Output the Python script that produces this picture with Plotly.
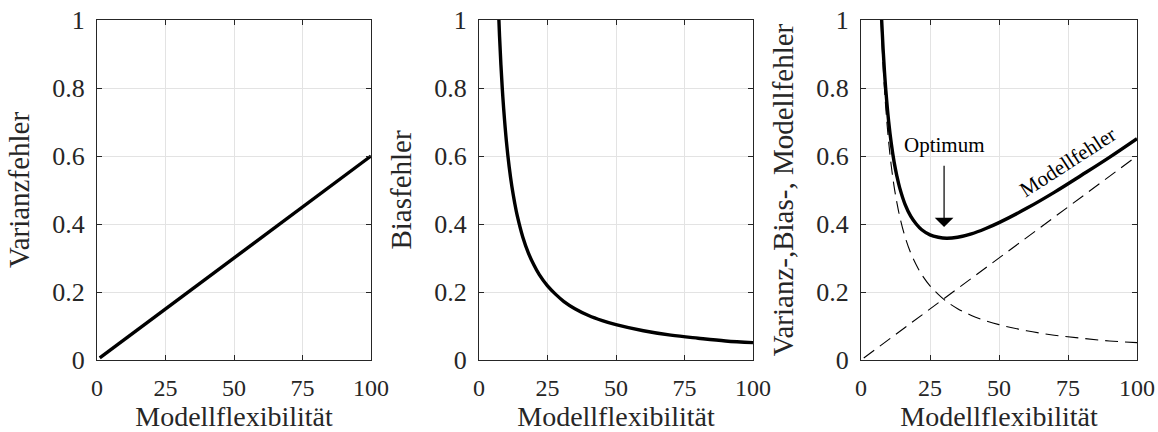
import plotly.graph_objects as go

# ---- data ----
var_x = [1, 100]
var_y = [0.006, 0.6]

bias_x = [7, 7.5, 8, 8.5, 9, 10, 11, 12, 13, 14, 16, 18, 20, 22, 25, 28, 31, 35, 40,
          45, 50, 60, 70, 80, 90, 100]
bias_y = [1.053, 0.952, 0.868, 0.798, 0.739, 0.643, 0.569, 0.510, 0.463, 0.423, 0.361,
          0.315, 0.280, 0.251, 0.218, 0.193, 0.172, 0.151, 0.131, 0.116, 0.104, 0.086,
          0.073, 0.064, 0.056, 0.051]

total_x = [7, 7.5, 8, 8.5, 9, 10, 11, 12, 13, 14, 16, 18, 20, 22, 25, 28, 31, 35, 40,
           45, 50, 60, 70, 80, 90, 100]
total_y = [1.095, 0.997, 0.916, 0.849, 0.793, 0.703, 0.635, 0.582, 0.541, 0.507, 0.457,
           0.423, 0.400, 0.383, 0.368, 0.361, 0.358, 0.361, 0.371, 0.386, 0.404, 0.446,
           0.493, 0.544, 0.596, 0.651]

x_ticks = [0, 25, 50, 75, 100]
y_ticks = [0, 0.2, 0.4, 0.6, 0.8, 1]
y_tick_text = ["0", "0.2", "0.4", "0.6", "0.8", "1"]

x_title = "Modellflexibilität"
y_titles = ["Varianzfehler", "Biasfehler", "Varianz-,Bias-, Modellfehler"]

opt_x, opt_text_y, opt_tail_y, opt_head_y = 30.1, 0.632, 0.576, 0.391
label_x, label_y = 75.0, 0.582

FONT = "Liberation Serif"
W, H = 1158, 432
panels_px = [(97, 371), (479, 753), (861, 1137)]
AX = "#262626"

fig = go.Figure()

fig.add_trace(go.Scatter(x=var_x, y=var_y, mode="lines",
                         line=dict(color="black", width=3.4), xaxis="x", yaxis="y"))
fig.add_trace(go.Scatter(x=bias_x, y=bias_y, mode="lines", line_shape="spline",
                         line=dict(color="black", width=3.4), xaxis="x2", yaxis="y2"))
fig.add_trace(go.Scatter(x=var_x, y=var_y, mode="lines",
                         line=dict(color="black", width=1.1, dash="13px,7px"),
                         xaxis="x3", yaxis="y3"))
fig.add_trace(go.Scatter(x=bias_x, y=bias_y, mode="lines", line_shape="spline",
                         line=dict(color="black", width=1.1, dash="13px,7px"),
                         xaxis="x3", yaxis="y3"))
fig.add_trace(go.Scatter(x=total_x, y=total_y, mode="lines", line_shape="spline",
                         line=dict(color="black", width=3.4), xaxis="x3", yaxis="y3"))

layout = dict(
    width=W, height=H,
    margin=dict(l=0, r=0, t=20, b=72),
    paper_bgcolor="white", plot_bgcolor="white",
    showlegend=False,
    font=dict(family=FONT, color=AX),
)

for i, (x0, x1) in enumerate(panels_px):
    sfx = "" if i == 0 else str(i + 1)
    common = dict(showline=True, linecolor=AX, linewidth=1, mirror="ticks",
                  ticks="inside", ticklen=5, tickcolor=AX,
                  showgrid=True, gridcolor="#e3e3e3", gridwidth=1,
                  zeroline=False, automargin=False)
    layout["xaxis" + sfx] = dict(common, domain=[x0 / W, x1 / W], range=[0, 100],
                                 tickvals=x_ticks, anchor="y" + sfx,
                                 ticklabelstandoff=6,
                                 tickfont=dict(family=FONT, size=24, color=AX),
                                 title=dict(text=x_title, font=dict(family=FONT, size=28, color=AX),
                                            standoff=10))
    layout["yaxis" + sfx] = dict(common, domain=[0, 1], range=[0, 1],
                                 tickvals=y_ticks, ticktext=y_tick_text, anchor="x" + sfx,
                                 ticklabelstandoff=6,
                                 tickfont=dict(family=FONT, size=26, color=AX),
                                 title=dict(text=y_titles[i], font=dict(family=FONT, size=29, color=AX),
                                            standoff=14))

fig.update_layout(**layout)

fig.add_annotation(x=opt_x, y=opt_text_y, xref="x3", yref="y3", text="Optimum",
                   showarrow=False, font=dict(family=FONT, size=21, color="black"))
fig.add_annotation(x=opt_x, y=opt_head_y, ax=opt_x, ay=opt_tail_y,
                   xref="x3", yref="y3", axref="x3", ayref="y3", text="",
                   showarrow=True, arrowhead=1, arrowsize=2.6, arrowwidth=1.2,
                   arrowcolor="black")
fig.add_annotation(x=label_x, y=label_y, xref="x3", yref="y3", text="Modellfehler",
                   showarrow=False, textangle=-33,
                   font=dict(family=FONT, size=21, color="black"))

fig.write_html("out.html")
